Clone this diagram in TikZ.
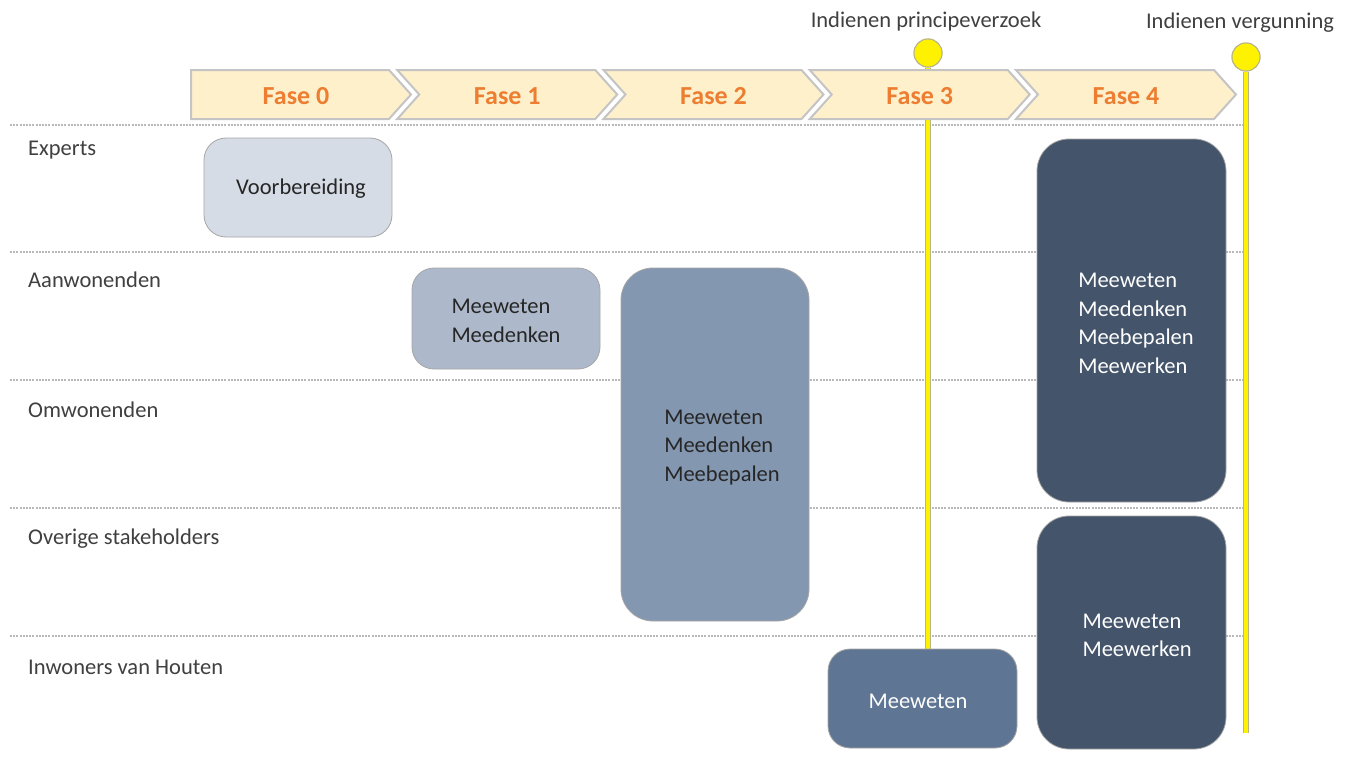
\documentclass[tikz,border=0pt]{standalone}
\usepackage{fontspec}
\setmainfont{Carlito}
\definecolor{chevfill}{HTML}{FEF0CB}
\definecolor{chevdraw}{HTML}{C4C4C4}
\definecolor{orangetxt}{HTML}{ED7D31}
\definecolor{labeltxt}{HTML}{404040}
\definecolor{boxA}{HTML}{D6DCE5}
\definecolor{boxB}{HTML}{ADB9CA}
\definecolor{boxC}{HTML}{8497B0}
\definecolor{boxD}{HTML}{5F7594}
\definecolor{boxE}{HTML}{44546A}
\definecolor{yel}{HTML}{FFF200}
\definecolor{yeledge}{HTML}{B8B48A}
\begin{document}
\begin{tikzpicture}[x=1pt,y=-1pt,
  rowlabel/.style={anchor=west,text=labeltxt,font=\fontsize{22.5}{27}\selectfont,inner sep=0pt},
  toplabel/.style={text=labeltxt,font=\fontsize{22.5}{27}\selectfont,inner sep=0pt},
  sepline/.style={draw=gray!55,line width=1.3pt,dash pattern=on 2pt off 1.2pt},
  chev/.style={fill=chevfill,draw=chevdraw,line width=2pt,line join=miter},
  fasetxt/.style={text=orangetxt,font=\fontsize{26}{30}\selectfont\bfseries},
  actbox/.style={rounded corners=22pt,draw=gray!70,line width=0.8pt,inner sep=0pt},
  bigbox/.style={actbox,rounded corners=32pt},
  boxtxt/.style={font=\fontsize{22.5}{28.5}\selectfont,align=left,inner sep=0pt},
  pin/.style={circle,fill=yel,draw=yeledge,line width=1pt,minimum size=28pt,inner sep=0pt},
  pinline/.style={draw=yeledge,line width=6pt},
  pinlinein/.style={draw=yel,line width=4pt}
]
\useasboundingbox (0,0) rectangle (1361,758);
\fill[white] (0,0) rectangle (1361,758);

% separators
\foreach \yy in {125,252,380,508,636}
  \draw[sepline] (10,\yy) -- (1245,\yy);

% milestones
\node[toplabel] (lp) at (926,21) {Indienen principeverzoek};
\node[toplabel] (lv) at (1240,23) {Indienen vergunning};
\node[pin] (cp) at (928,53) {};
\node[pin] (cv) at (1246,57) {};
\coordinate (vend) at (1246,733);
\coordinate (pend) at (928,649);
\draw[pinline] (cp.south) -- (pend);
\draw[pinlinein] (cp.south) -- (pend);
\draw[pinline] (cv.south) -- (vend);
\draw[pinlinein] (cv.south) -- (vend);
\node[pin] at (cp) {};
\node[pin] at (cv) {};

% chevrons
\draw[chev] (191,70) -- (389,70) -- (411,94.5) -- (389,119) -- (191,119) -- cycle;
\node[fasetxt] (f0) at (296,96) {Fase 0};
\foreach \i/\lab in {1/Fase 1,2/Fase 2,3/Fase 3,4/Fase 4}{
  \pgfmathsetmacro{\L}{191+206.25*\i}
  \draw[chev] (\L,70) -- (\L+198,70) -- (\L+220,94.5) -- (\L+198,119) -- (\L,119) -- (\L+22,94.5) -- cycle;
  \node[fasetxt] (f\i) at (\L+110,96) {\lab};
}

% row labels
\node[rowlabel] (r1) at (28,150) {Experts};
\node[rowlabel] (r2) at (28,280) {Aanwonenden};
\node[rowlabel] (r3) at (28,410) {Omwonenden};
\node[rowlabel] (r4) at (28,539) {Overige stakeholders};
\node[rowlabel] (r5) at (28,667) {Inwoners van Houten};

% activity boxes
\node[actbox,fill=boxA,minimum width=188pt,minimum height=99pt] (b0) at (298,187.5) {};
\node[boxtxt,text=black!85] (b0t) at (301,189) {Voorbereiding};
\node[actbox,fill=boxB,minimum width=188pt,minimum height=101pt] (b1) at (506,318.5) {};
\node[boxtxt,text=black!85] (b1t) at (506,321) {Meeweten\\Meedenken};
\node[bigbox,fill=boxC,minimum width=188pt,minimum height=353pt] (b2) at (715,444.5) {};
\node[boxtxt,text=black!85] (b2t) at (722,447.5) {Meeweten\\Meedenken\\Meebepalen};
\node[actbox,fill=boxD,minimum width=189pt,minimum height=99pt] (b3) at (922.5,698.5) {};
\node[boxtxt,text=white] (b3t) at (918,701) {Meeweten};
\node[bigbox,fill=boxE,minimum width=189pt,minimum height=363pt] (b4) at (1131.5,320.5) {};
\node[boxtxt,text=white] (b4t) at (1136,323.5) {Meeweten\\Meedenken\\Meebepalen\\Meewerken};
\node[bigbox,fill=boxE,minimum width=189pt,minimum height=233pt] (b5) at (1131.5,632.5) {};
\node[boxtxt,text=white] (b5t) at (1137,635.5) {Meeweten\\Meewerken};
\end{tikzpicture}
\end{document}
